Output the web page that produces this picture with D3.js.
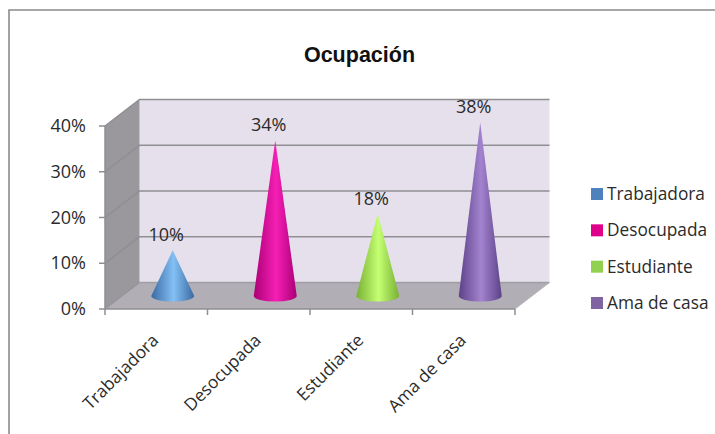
<!DOCTYPE html>
<html><head><meta charset="utf-8">
<script src="https://cdn.jsdelivr.net/npm/d3@7"></script>
<style>html,body{margin:0;padding:0;background:#fff}svg{display:block}text{font-family:"Open Sans",Lato,sans-serif;fill:#2b2b2b}</style>
</head><body><svg id="c" width="715" height="434"></svg>
<script>
const title = "Ocupación";
const categories = ["Trabajadora","Desocupada","Estudiante","Ama de casa"];
const values = [10,34,18,38];
const valueLabels = ["10%","34%","18%","38%"];
const yTicks = [0,10,20,30,40];
const edgeColors = ["#3a6aa2","#ab0076","#79b034","#5c4288"];
const midColors = ["#84c0f5","#f51fb4","#c4ff72","#a383cf"];
const legendColors = ["#4f81bd","#e0008c","#92d050","#8064a2"];

const svg = d3.select("#c");
const dx = 34.5, dy = -26.5;
const x = d3.scaleBand().domain(categories).range([105,515]).padding(0);
const y = d3.scaleLinear().domain([0,40]).range([309,126]);
const x0 = x.range()[0], x1 = x.range()[1];
const line = d3.line();
const pts = a => line(a)+"Z";

svg.append("path").attr("d",line([[715,10],[9,10],[9,434]])).attr("fill","none").attr("stroke","#8a8a8a").attr("stroke-width",1.6);

svg.append("text").attr("x",359.5).attr("y",62).attr("text-anchor","middle")
  .style("font-family","'Liberation Sans',Arial,sans-serif").style("font-weight","bold").style("font-size","21.5px").style("fill","#111").text(title);

svg.append("path").attr("d",pts([[x0+dx,y(40)+dy],[x1+dx,y(40)+dy],[x1+dx,y(0)+dy],[x0+dx,y(0)+dy]])).attr("fill","#e6e0ec");
svg.append("path").attr("d",pts([[x0,y(40)],[x0+dx,y(40)+dy],[x0+dx,y(0)+dy],[x0,y(0)]])).attr("fill","#9a979d");
svg.append("path").attr("d",pts([[x0,y(0)],[x0+dx,y(0)+dy],[x1+dx,y(0)+dy],[x1,y(0)]])).attr("fill","#b1aeb5");

yTicks.forEach(t=>{
  const isFloor = t===0;
  svg.append("path").attr("d",line([[x0,y(t)],[x0+dx,y(t)+dy],[x1+dx,y(t)+dy]]))
    .attr("fill","none").attr("stroke","#8f8f92").attr("stroke-width",1.5).attr("opacity",isFloor?0.75:1);
});
svg.append("path").attr("d",line([[x1,y(0)],[x1+dx,y(0)+dy]])).attr("fill","none").attr("stroke","#b8b8bb").attr("stroke-width",1);

const ticksX = [...categories.map(c=>x(c)), x1];
svg.append("path").attr("d",line([[x0,y(40)],[x0,y(0)],[x1,y(0)]])).attr("fill","none").attr("stroke","#8f8f92").attr("stroke-width",1.5);
ticksX.forEach(t=>svg.append("line").attr("x1",t).attr("x2",t).attr("y1",y(0)).attr("y2",y(0)+6).attr("stroke","#8f8f92").attr("stroke-width",1.5));
yTicks.forEach(t=>{
  svg.append("line").attr("x1",x0-6).attr("x2",x0).attr("y1",y(t)).attr("y2",y(t)).attr("stroke","#8f8f92").attr("stroke-width",1.5);
  svg.append("text").attr("x",86).attr("y",y(t)+6).attr("text-anchor","end").style("font-size","18px").text(t+"%");
});

const defs = svg.append("defs");
const rx = 21.5, ry = 5.5, baseShift = -13;
categories.forEach((c,i)=>{
  const g = defs.append("linearGradient").attr("id","g"+i).attr("x1",0).attr("x2",1).attr("y1",0).attr("y2",0);
  g.append("stop").attr("offset","0").attr("stop-color",edgeColors[i]);
  g.append("stop").attr("offset","0.52").attr("stop-color",midColors[i]);
  g.append("stop").attr("offset","1").attr("stop-color",edgeColors[i]);
  const cx = x(c)+x.bandwidth()/2+16.5;
  const by = y(0)+baseShift, ty = y(values[i])+baseShift;
  svg.append("path")
    .attr("d",`M${cx-rx},${by}L${cx},${ty}L${cx+rx},${by}A${rx},${ry} 0 0 1 ${cx-rx},${by}Z`)
    .attr("fill",`url(#g${i})`);
  svg.append("text").attr("x",cx-6.5).attr("y",ty-9).attr("text-anchor","middle").style("font-size","18px").text(valueLabels[i]);
  const lx = x(c)+x.bandwidth()/2-4, ly = y(0)+25;
  svg.append("text").attr("transform",`translate(${lx},${ly}) rotate(-45)`).attr("text-anchor","end").attr("dy","0.6em").style("font-size","17.3px").text(c);
});

const legY = d3.scalePoint().domain(categories).range([194,303]);
categories.forEach((c,i)=>{
  svg.append("rect").attr("x",591).attr("y",legY(c)-6).attr("width",12).attr("height",12).attr("fill",legendColors[i]);
  svg.append("text").attr("x",607).attr("y",legY(c)+6).style("font-size","17.3px").text(c);
});
</script></body></html>
